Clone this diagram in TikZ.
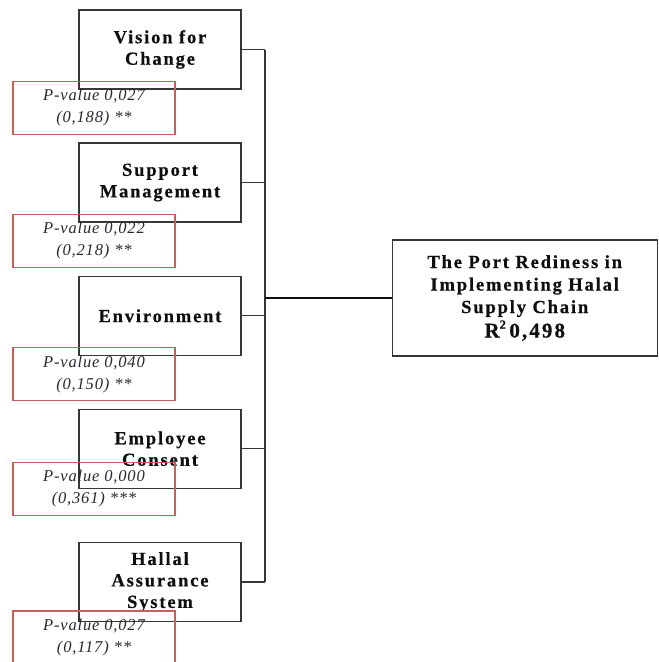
\documentclass[tikz,border=0pt]{standalone}
\usepackage{fontspec}
\setmainfont{Liberation Serif}
\newfontfamily\boxfont[LetterSpace=10,BoldFeatures={FakeBold=0.6}]{Liberation Serif}
\newfontfamily\pfont[LetterSpace=5]{Liberation Serif}
\definecolor{boxgray}{RGB}{55,55,55}
\definecolor{redbox}{RGB}{200,95,90}
\definecolor{txt}{RGB}{15,15,15}
\definecolor{ptxt}{RGB}{40,40,50}
\tikzset{
  factor/.style={draw=boxgray, line width=1.2pt, minimum width=162pt, minimum height=79pt,
    inner sep=0pt, align=center, text=txt, font=\boxfont\bfseries\fontsize{18.5}{21.5}\selectfont},
  pval/.style={draw=redbox, line width=1.2pt, minimum width=162pt, minimum height=53pt,
    inner sep=0pt, align=center, text=ptxt, font=\pfont\itshape\fontsize{16.5}{22}\selectfont},
  target/.style={draw=boxgray, line width=1.2pt, minimum width=265pt, minimum height=116pt,
    inner sep=0pt, align=center, text=txt, font=\boxfont\bfseries\fontsize{18.5}{22.5}\selectfont},
  conn/.style={draw=boxgray, line width=1.3pt},
  mainconn/.style={draw=txt, line width=2pt}
}
\begin{document}
\begin{tikzpicture}[x=1pt,y=-1pt]
\useasboundingbox (0,0) rectangle (659,662);
% factor boxes
\node[factor] (f1) at (160,49.5) {Vision for\\Change};
\node[factor] (f2) at (160,182.5) {Support\\Management};
\node[factor] (f3) at (160,315.8) {Environment};
\node[factor] (f4) at (160,448.7) {Employee\\Consent};
\node[factor] (f5) at (160,582) {Hallal\\Assurance\\System};
% p-value boxes
\node[pval] (p1) at (94,108) {P-value 0,027\\(0,188) **};
\node[pval] (p2) at (94,240.8) {P-value 0,022\\(0,218) **};
\node[pval] (p3) at (94,374.2) {P-value 0,040\\(0,150) **};
\node[pval] (p4) at (94,489) {P-value 0,000\\(0,361) ***};
\node[pval] (p5) at (94,637.5) {P-value 0,027\\(0,117) **};
% target
\node[target] (t) at (524.75,298) {The Port Rediness in\\Implementing Halal\\Supply Chain\\[2pt]
  {\fontsize{21}{22.5}\selectfont R\raisebox{0.42em}{\fontsize{12.5}{13}\selectfont 2}\,0,498}};
% bus
\coordinate (b1) at (265,49.5);
\coordinate (b2) at (265,182.5);
\coordinate (b3) at (265,315.8);
\coordinate (b4) at (265,448.7);
\coordinate (b5) at (265,582);
\coordinate (bt) at (265,298);
\draw[conn] (f1.east) -- (b1);
\draw[conn] (f2.east) -- (b2);
\draw[conn] (f3.east) -- (b3);
\draw[conn] (f4.east) -- (b4);
\draw[conn] (f5.east) -- (b5);
\draw[conn] (b1) -- (b5);
\draw[mainconn] (bt) -- (t.west);
\end{tikzpicture}
\end{document}
